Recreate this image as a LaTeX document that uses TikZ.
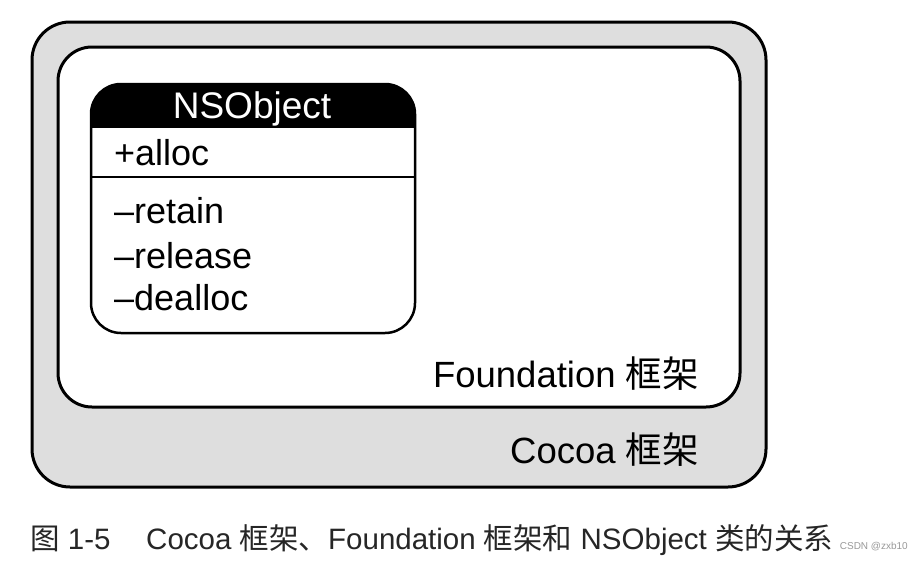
\documentclass[tikz,border=0pt]{standalone}
\usepackage{fontspec}
\setmainfont{Liberation Sans}
\newfontfamily\cjk{Noto Sans CJK SC}
\begin{document}
\begin{tikzpicture}[x=1pt,y=-1pt,
  frame/.style={line width=3pt,draw=black},
  lbl/.style={inner sep=0pt,font=\fontsize{36.5}{42}\selectfont},
  item/.style={inner sep=0pt,anchor=base west,font=\fontsize{36}{42}\selectfont},
  captext/.style={inner sep=0pt,anchor=base west,font=\fontsize{29.5}{35}\selectfont,text=black!85}]
\useasboundingbox (0,0) rectangle (923,565);
\fill[white] (0,0) rectangle (923,565);
% outer Cocoa frame
\draw[frame,fill=black!13,rounded corners=38pt] (32,22) rectangle (766,487);
% inner Foundation frame
\draw[frame,fill=white,rounded corners=34pt] (58,47) rectangle (740,407);
% NSObject class box
\coordinate (nw) at (91,84);
\coordinate (se) at (415,333);
\fill[black,rounded corners=30pt] (91,84) rectangle (415,160);
\fill[white] (91,127) rectangle (415,165);
\draw[line width=2.5pt,rounded corners=30pt] (nw) rectangle (se);
\draw[line width=2.5pt] (91,127) -- (415,127);
\draw[line width=2pt] (91,177) -- (415,177);
\node[lbl,anchor=base,text=white,font=\fontsize{37}{42}\selectfont] (title) at (252,118) {NSObject};
\node[item] (alloc) at (114,165) {+alloc};
\node[item] (retain) at (114,223) {–retain};
\node[item] (release) at (114,268) {–release};
\node[item] (dealloc) at (114,310) {–dealloc};
\node[lbl,anchor=base east] (found) at (699,387) {Foundation {\cjk 框架}};
\node[lbl,anchor=base east] (cocoa) at (699,463) {Cocoa {\cjk 框架}};
\node[captext] (fig) at (30,549) {{\cjk 图} 1-5};
\node[captext] (caption) at (146,549) {Cocoa {\cjk 框架、}Foundation {\cjk 框架和} NSObject {\cjk 类的关系}};
\node[inner sep=0pt,anchor=base east,font=\fontsize{10}{12}\selectfont,text=black!40] (wm) at (908,549) {CSDN @zxb10};
\end{tikzpicture}
\end{document}
